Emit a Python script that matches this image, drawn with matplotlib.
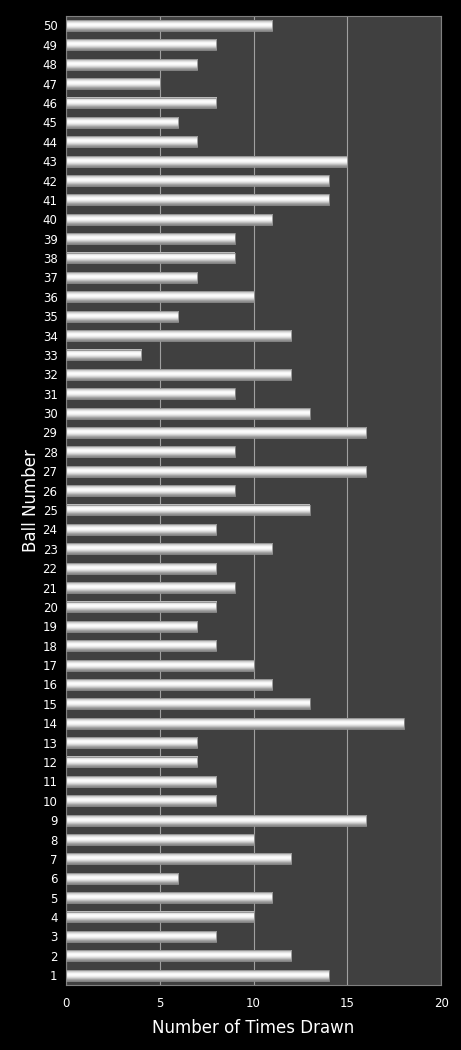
import matplotlib.pyplot as plt
import numpy as np

# Ball numbers and how often each was drawn
balls = list(range(1, 51))
drawn = [14, 12, 8, 10, 11, 6, 12, 10, 16, 8,
         8, 7, 7, 18, 13, 11, 10, 8, 7, 8,
         9, 8, 11, 8, 13, 9, 16, 9, 16, 13,
         9, 12, 4, 12, 6, 10, 7, 9, 9, 11,
         14, 14, 15, 7, 6, 8, 5, 7, 8, 11]

fig = plt.figure(figsize=(4.61, 10.5), dpi=100, facecolor='black')
ax = fig.add_axes([0.143, 0.062, 0.814, 0.923])
ax.set_facecolor('#404040')

bars = ax.barh(balls, drawn, height=0.56, color='none', edgecolor='#909090', linewidth=0.6, zorder=3)

# gradient fill for each bar (bright top, grey bottom)
grad = np.array([[0.55], [0.7], [0.85], [0.95], [1.0], [0.98], [0.85], [0.72]])
for b in bars:
    x0, y0 = b.get_x(), b.get_y()
    w, h = b.get_width(), b.get_height()
    ax.imshow(grad, cmap='gray', vmin=0, vmax=1, aspect='auto',
              extent=[x0, x0 + w, y0, y0 + h], origin='lower', zorder=2,
              interpolation='bicubic')

ax.set_xlim(0, 20)
ax.set_ylim(0.5, 50.5)
ax.set_xticks([0, 5, 10, 15, 20])
ax.set_yticks(balls)
ax.xaxis.grid(True, color='#a0a0a0', linewidth=0.8, zorder=1)
ax.set_axisbelow(True)
for s in ax.spines.values():
    s.set_color('#808080')
    s.set_linewidth(0.8)
ax.tick_params(colors='white', labelsize=8.5, length=0)
ax.tick_params(axis='x', pad=9)
ax.tick_params(axis='y', pad=6)
ax.set_xlabel('Number of Times Drawn', color='white', fontsize=12, labelpad=6)
ax.set_ylabel('Ball Number', color='white', fontsize=12, labelpad=2)

plt.savefig('out.png', dpi=100, facecolor='black')
